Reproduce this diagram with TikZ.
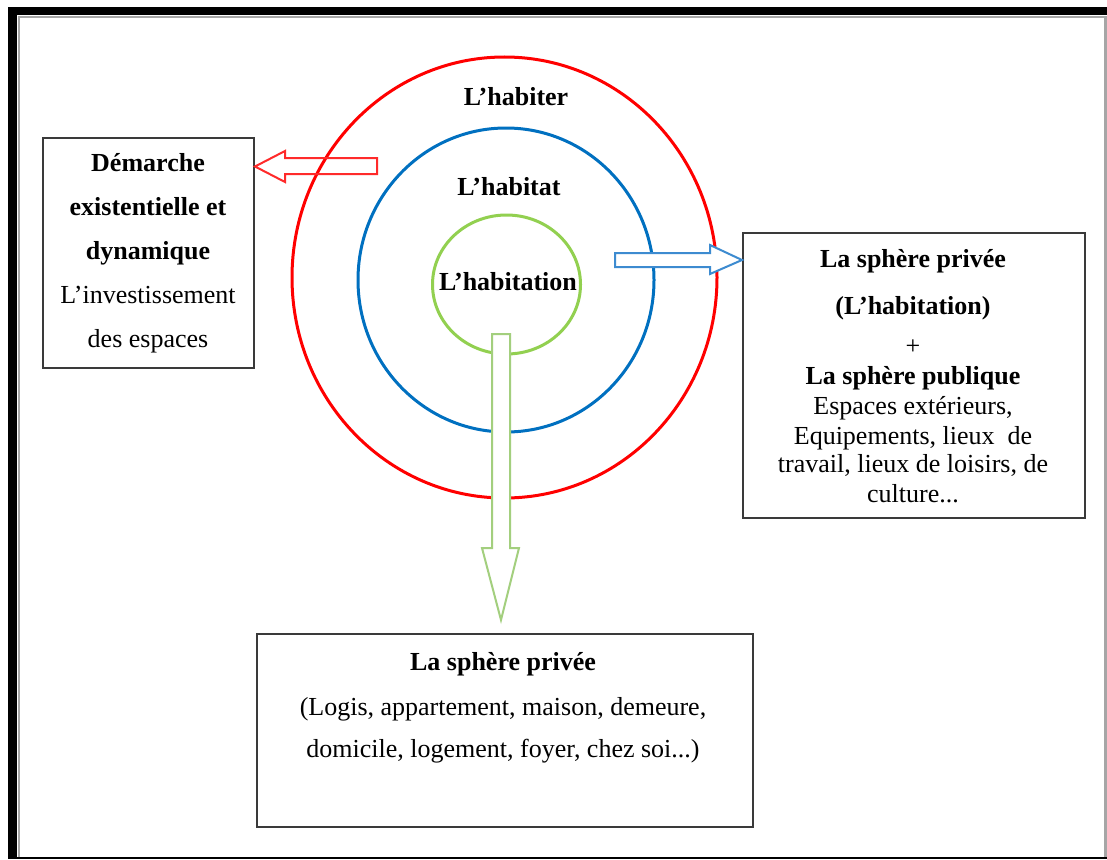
\documentclass[tikz,border=0pt]{standalone}
\usepackage{fontspec}
\setmainfont{Liberation Serif}
\usetikzlibrary{shapes.geometric}
\definecolor{cred}{HTML}{FF0000}
\definecolor{cblue}{HTML}{0070C0}
\definecolor{cgreen}{HTML}{92D050}
\definecolor{ared}{HTML}{FF2A2A}
\definecolor{ablue}{HTML}{3D8BD0}
\definecolor{agreen}{HTML}{A3CF7E}
\definecolor{boxgray}{HTML}{3A3A3A}
\begin{document}
\begin{tikzpicture}[x=1pt,y=-1pt,
  ring/.style={draw,ellipse,line width=3pt,inner sep=0pt},
  infobox/.style={draw=boxgray,line width=2pt,rectangle,inner sep=0pt},
  txt/.style={inner sep=0pt,align=center,font=\fontsize{26}{30}\selectfont},
  bigarrow/.style={line width=2pt,line join=miter}]
\useasboundingbox (0,0) rectangle (1107,859);
% frame
\fill[white] (0,0) rectangle (1107,859);
\fill[black] (8,7) rectangle (1107,15);
\fill[black] (8,7) rectangle (17,859);
\fill[black] (8,856.5) rectangle (1107,859);
\draw[gray!70,line width=2pt] (18,17) -- (1107,17);
\draw[gray!70,line width=2pt] (19,17) -- (19,857);
\draw[gray!70,line width=2.5pt] (1105.5,17) -- (1105.5,857);
% rings
\node[ring,draw=cred,minimum width=425pt,minimum height=441pt] (outer) at (504.5,277.5) {};
\node[ring,draw=cblue,minimum width=296pt,minimum height=304pt] (mid) at (506,280) {};
\node[ring,draw=cgreen,minimum width=148pt,minimum height=139pt] (inner) at (506.5,284.5) {};
% ring labels
\node[txt,font=\fontsize{26}{30}\selectfont\bfseries] (lhabiter) at (516,97) {L’habiter};
\node[txt,font=\fontsize{26}{30}\selectfont\bfseries] (lhabitat) at (509,187) {L’habitat};
\node[txt,font=\fontsize{26}{30}\selectfont\bfseries] (lhabitation) at (508,282) {L’habitation};
% boxes
\node[infobox,minimum width=211pt,minimum height=230pt] (leftbox) at (148.5,253) {};
\node[infobox,minimum width=342pt,minimum height=285pt] (rightbox) at (914,375.5) {};
\node[infobox,minimum width=496pt,minimum height=193pt] (bottombox) at (505,730.5) {};
% box texts
\node[txt,font=\fontsize{26}{44}\selectfont] (lefttxt) at (148,253) {\textbf{Démarche}\\\textbf{existentielle et}\\\textbf{dynamique}\\L’investissement\\des espaces};
\node[txt] (righttxt) at (913,376.5) {\textbf{La sphère privée}\\[17pt]\textbf{(L’habitation)}\\[10pt]+\\\textbf{La sphère publique}\\Espaces extérieurs,\\Equipements, lieux\ \ de\\[-2pt]travail, lieux de loisirs, de\\culture...};
\node[txt,font=\fontsize{26}{42}\selectfont] (bottomtxt) at (503,708) {\textbf{La sphère privée}\\[3pt](Logis, appartement, maison, demeure,\\domicile, logement, foyer, chez soi...)};
% arrows
\draw[bigarrow,draw=ared] (377,158) -- (285,158) -- (285,151) -- (leftbox.east |- 0,166.5) -- (285,182) -- (285,174) -- (377,174) -- cycle;
\filldraw[bigarrow,draw=ablue,fill=white] (615,253) -- (710,253) -- (710,245) -- (rightbox.west |- 0,260) -- (710,274) -- (710,267) -- (615,267) -- cycle;
\filldraw[bigarrow,draw=agreen,fill=white] (492,334) -- (510,334) -- (510,548) -- (519,548) -- (501,620) -- (482,548) -- (492,548) -- cycle;
\end{tikzpicture}
\end{document}
